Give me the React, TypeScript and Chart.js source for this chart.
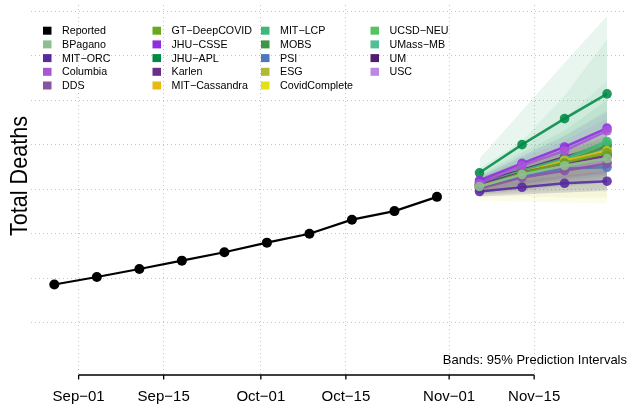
import React, { useEffect, useRef } from "react";
import { Chart, registerables } from "chart.js";

Chart.register(...registerables);

// ---------- data ----------
const reportedDates = [
  "2020-08-28", "2020-09-04", "2020-09-11", "2020-09-18", "2020-09-25",
  "2020-10-02", "2020-10-09", "2020-10-16", "2020-10-23", "2020-10-30",
];
// total deaths, thousands
const reportedDeaths = [171.5, 175.7, 180.2, 184.9, 189.6, 195.0, 200.0, 207.9, 212.7, 220.7];

const forecastDates = ["2020-11-06", "2020-11-13", "2020-11-20", "2020-11-27"];

const tickDates = ["2020-09-01", "2020-09-15", "2020-10-01", "2020-10-15", "2020-11-01", "2020-11-15"];
const tickLabels = ["Sep\u221201", "Sep\u221215", "Oct\u221201", "Oct\u221215", "Nov\u221201", "Nov\u221215"];
const yGridValues = [150, 175, 200, 225, 250, 275, 300, 325];

const BPagano = { median: [226.5, 233.2, 238.2, 242.2], lower: [223.1, 228.7, 233.2, 236.6], upper: [229.9, 236.6, 242.7, 247.8] };
const MIT_ORC = { median: [223.7, 226.1, 228.3, 229.5], lower: [220.9, 222.0, 223.1, 224.3], upper: [226.5, 229.9, 232.6, 235.4] };
const Columbia = { median: [228.2, 238.2, 246.6, 257.8], lower: [222.6, 224.3, 226.5, 228.7], upper: [231.5, 242.2, 252.2, 264.6] };
const DDS = { median: [225.4, 231.5, 235.4, 239.4], lower: [220.9, 222.0, 223.1, 224.3], upper: [229.9, 237.7, 243.8, 251.1] };
const GT_DeepCOVID = { median: [226.5, 233.8, 239.9, 245.5], lower: [222.0, 224.3, 226.5, 228.7], upper: [230.4, 239.4, 246.6, 255.0] };
const JHU_CSSE = { median: [229.9, 239.5, 248.7, 259.3], lower: [224.3, 226.5, 228.7, 231.0], upper: [232.1, 243.8, 255.0, 269.0] };
const JHU_APL = { median: [234.2, 250.0, 264.6, 278.5], lower: [226.5, 231.0, 235.4, 241.0], upper: [242.2, 269.0, 295.9, 322.2] };
const Karlen = { median: [227.6, 234.3, 239.4, 243.8], lower: [224.3, 227.6, 231.0, 234.3], upper: [231.0, 239.9, 246.6, 253.4] };
const MIT_Cassandra = { median: [225.9, 234.3, 241.0, 246.6], lower: [222.6, 226.5, 231.0, 235.4], upper: [229.9, 238.8, 246.6, 255.0] };
const MIT_LCP = { median: [227.6, 235.4, 242.2, 251.8], lower: [223.1, 225.4, 227.6, 231.0], upper: [236.6, 252.2, 277.4, 309.3] };
const MOBS = { median: [227.1, 234.9, 240.5, 248.9], lower: [222.0, 223.1, 224.3, 225.4], upper: [233.2, 245.5, 258.0, 275.0] };
const PSI = { median: [225.9, 232.6, 236.6, 237.3], lower: [222.6, 227.6, 232.1, 233.2], upper: [229.3, 236.6, 241.0, 243.8] };
const ESG = { median: [225.9, 233.2, 239.4, 243.8], lower: [220.9, 220.9, 220.3, 220.3], upper: [229.9, 237.7, 245.5, 252.2] };
const CovidComplete = { median: [226.5, 233.8, 239.9, 244.8], lower: [218.7, 218.1, 217.5, 217.0], upper: [231.0, 239.9, 247.8, 255.0] };
const UCSD_NEU = { median: [227.1, 234.3, 241.0, 250.6], lower: [223.1, 225.4, 228.2, 231.0], upper: [232.1, 243.3, 255.0, 268.0] };
const UMass_MB = { median: [227.1, 234.3, 239.9, 246.6], lower: [222.0, 222.6, 223.1, 223.7], upper: [234.3, 248.0, 265.0, 285.8] };
const UM = { median: [228.7, 235.8, 242.9, 249.8], lower: [223.7, 226.5, 229.9, 232.6], upper: [231.5, 240.5, 249.4, 258.0] };
const USC = { median: [226.5, 231.7, 235.8, 240.1], lower: [223.7, 227.6, 231.0, 234.3], upper: [229.3, 236.0, 241.0, 246.6] };

const modelNames = [
  "BPagano", "MIT\u2212ORC", "Columbia", "DDS", "GT\u2212DeepCOVID", "JHU\u2212CSSE", "JHU\u2212APL",
  "Karlen", "MIT\u2212Cassandra", "MIT\u2212LCP", "MOBS", "PSI", "ESG", "CovidComplete",
  "UCSD\u2212NEU", "UMass\u2212MB", "UM", "USC",
];
const modelData = [
  BPagano, MIT_ORC, Columbia, DDS, GT_DeepCOVID, JHU_CSSE, JHU_APL, Karlen, MIT_Cassandra,
  MIT_LCP, MOBS, PSI, ESG, CovidComplete, UCSD_NEU, UMass_MB, UM, USC,
];
const modelColors = [
  [143, 191, 143], [88, 42, 160], [168, 85, 214], [135, 85, 160], [106, 168, 30], [142, 45, 226],
  [0, 138, 70], [105, 45, 140], [230, 185, 20], [60, 185, 120], [60, 150, 70], [75, 120, 190],
  [175, 185, 50], [225, 225, 20], [85, 195, 100], [80, 190, 150], [80, 30, 110], [190, 135, 225],
];

// ---------- helpers ----------
const DAY0 = Date.parse("2020-09-01");
const dayOf = (s: string) => (Date.parse(s) - DAY0) / 86400000;
const rgba = (c: number[], a: number) => `rgba(${c[0]},${c[1]},${c[2]},${a})`;
const FONT = "'Liberation Sans', Arial, Helvetica, sans-serif";

const decorPlugin = {
  id: "decor",
  afterDraw(chart: any) {
    const ctx = chart.ctx as CanvasRenderingContext2D;
    const xs = chart.scales.x;
    const bottom = chart.chartArea.bottom;
    ctx.save();
    const tx = tickDates.map((d) => xs.getPixelForValue(dayOf(d)));
    ctx.strokeStyle = "#000";
    ctx.lineWidth = 1.3;
    ctx.beginPath();
    ctx.moveTo(tx[0], bottom);
    ctx.lineTo(tx[tx.length - 1], bottom);
    tx.forEach((x) => {
      ctx.moveTo(x, bottom);
      ctx.lineTo(x, bottom + 4.5);
    });
    ctx.stroke();
    ctx.fillStyle = "#000";
    ctx.font = `15px ${FONT}`;
    ctx.textAlign = "center";
    ctx.textBaseline = "middle";
    tickLabels.forEach((l, i) => ctx.fillText(l, tx[i], 397));

    ctx.save();
    ctx.translate(26.5, 176);
    ctx.rotate(-Math.PI / 2);
    ctx.scale(0.9, 1);
    ctx.font = `24px ${FONT}`;
    ctx.textAlign = "center";
    ctx.textBaseline = "alphabetic";
    ctx.fillText("Total Deaths", 0, 0);
    ctx.restore();

    ctx.font = `13px ${FONT}`;
    ctx.textAlign = "right";
    ctx.textBaseline = "middle";
    ctx.fillText("Bands: 95% Prediction Intervals", 627, 360);

    const names = ["Reported", ...modelNames];
    const cols = [[0, 0, 0], ...modelColors];
    const colSq = [43, 152.5, 261, 370.5];
    ctx.font = `10.7px ${FONT}`;
    ctx.textAlign = "left";
    names.forEach((n, i) => {
      const c = Math.floor(i / 5);
      const r = i % 5;
      const y = 30.7 + r * 13.7;
      ctx.fillStyle = rgba(cols[i], 1);
      ctx.fillRect(colSq[c], y - 4, 8.5, 8);
      ctx.fillStyle = "#000";
      ctx.fillText(n, colSq[c] + 19, y + 0.5);
    });
    ctx.restore();
  },
};

export default function App() {
  const ref = useRef<HTMLCanvasElement | null>(null);
  useEffect(() => {
    if (!ref.current) return;
    const fx = forecastDates.map(dayOf);
    const datasets: any[] = [];
    modelData.forEach((m, i) => {
      const c = modelColors[i];
      datasets.push({
        data: m.lower.map((v, k) => ({ x: fx[k], y: v })),
        borderWidth: 0,
        pointRadius: 0,
        fill: false,
        order: 3,
      });
      datasets.push({
        data: m.upper.map((v, k) => ({ x: fx[k], y: v })),
        borderWidth: 0,
        pointRadius: 0,
        fill: "-1",
        backgroundColor: rgba(c, 0.085),
        order: 3,
      });
    });
    modelData.forEach((m, i) => {
      const c = modelColors[i];
      datasets.push({
        data: m.median.map((v, k) => ({ x: fx[k], y: v })),
        borderColor: rgba(c, 0.88),
        backgroundColor: rgba(c, 0.88),
        borderWidth: 2.5,
        pointRadius: 4.8,
        pointBorderWidth: 0,
        pointBackgroundColor: rgba(c, 0.88),
        fill: false,
        order: 2,
      });
    });
    datasets.push({
      data: reportedDeaths.map((v, k) => ({ x: dayOf(reportedDates[k]), y: v })),
      borderColor: "#000",
      borderWidth: 2.2,
      pointRadius: 5,
      pointBorderWidth: 0,
      pointBackgroundColor: "#000",
      fill: false,
      order: 1,
    });

    const chart = new Chart(ref.current, {
      type: "line",
      data: { datasets },
      options: {
        responsive: false,
        animation: false,
        events: [],
        layout: { padding: { left: 31, top: 4, bottom: 31, right: 0 } },
        plugins: { legend: { display: false }, tooltip: { enabled: false } },
        scales: {
          x: {
            type: "linear",
            min: -7.84,
            max: 90.12,
            afterBuildTicks: (s: any) => {
              s.ticks = tickDates.map((d) => ({ value: dayOf(d) }));
            },
            ticks: { display: false },
            border: { display: false, dash: [1, 3] },
            grid: { color: "#c4c4c4", lineWidth: 1, drawTicks: false, tickLength: 0 } as any,
          },
          y: {
            type: "linear",
            min: 120.7,
            max: 328.4,
            afterBuildTicks: (s: any) => {
              s.ticks = yGridValues.map((v) => ({ value: v }));
            },
            ticks: { display: false },
            border: { display: false, dash: [1, 3] },
            grid: { color: "#c4c4c4", lineWidth: 1, drawTicks: false, tickLength: 0 } as any,
          },
        },
      },
      plugins: [decorPlugin],
    } as any);
    return () => chart.destroy();
  }, []);
  return (
    <div style={{ position: "fixed", left: 0, top: 0, width: 631, height: 406, background: "#fff" }}>
      <canvas ref={ref} width={631} height={406} style={{ display: "block" }} />
    </div>
  );
}
